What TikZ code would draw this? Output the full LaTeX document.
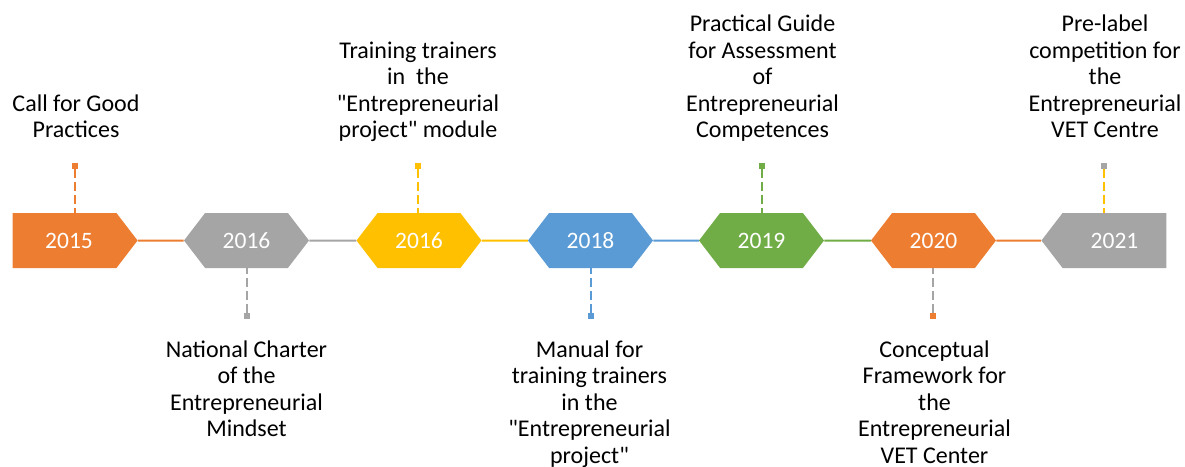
\documentclass[tikz,border=0pt]{standalone}
\usepackage{fontspec}
\setmainfont{Carlito}
\usetikzlibrary{shapes.symbols}

\definecolor{Orange}{HTML}{ED7D31}
\definecolor{Gray}{HTML}{A5A5A5}
\definecolor{Gold}{HTML}{FFC000}
\definecolor{Blue}{HTML}{5B9BD5}
\definecolor{Green}{HTML}{70AD47}

\tikzset{
 year/.style={signal, signal to=east and west, signal pointer angle=105,
   minimum width=125, minimum height=55, inner sep=0pt, text=white,
   font=\fontsize{23.5}{26}\selectfont},
 milestone/.style={align=center, inner sep=0pt, font=\fontsize{24}{26.5}\selectfont},
 tip/.style={rectangle, minimum size=5.5, inner sep=0pt},
 stem/.style={line width=2, dash pattern=on 9 off 4},
 link/.style={line width=2}
}

\begin{document}
\begin{tikzpicture}[x=1pt, y=-1pt]

 \useasboundingbox (0,0) rectangle (1185,466) ;

 %%%%%%%%%% Years %%%%%%%%%%
 \node [year, fill=Orange, signal to=east] (y2015) at (64.5,240.5) {\hspace{9pt}2015} ;
 \node [year, fill=Gray] (y2016a) at (246.5,240.5) {2016} ;
 \node [year, fill=Gold] (y2016b) at (419,240.5) {2016} ;
 \node [year, fill=Blue] (y2018) at (590.5,240.5) {2018} ;
 \node [year, fill=Green] (y2019) at (761.5,240.5) {2019} ;
 \node [year, fill=Orange] (y2020) at (933.5,240.5) {2020} ;
 \node [year, fill=Gray, signal to=west] (y2021) at (1114.5,240.5) {2021\hspace{9pt}} ;

 %%%%%%%%%% Timeline %%%%%%%%%%
 \draw [link, color=Orange] (y2015) -- (y2016a) ;
 \draw [link, color=Gray] (y2016a) -- (y2016b) ;
 \draw [link, color=Gold] (y2016b) -- (y2018) ;
 \draw [link, color=Blue] (y2018) -- (y2019) ;
 \draw [link, color=Green] (y2019) -- (y2020) ;
 \draw [link, color=Orange] (y2020) -- (y2021) ;

 %%%%%%%%%% Markers %%%%%%%%%%
 \node [tip, fill=Orange] (d2015) at (75,166) {} ;
 \node [tip, fill=Gray] (d2016a) at (247,316) {} ;
 \node [tip, fill=Gold] (d2016b) at (418,166) {} ;
 \node [tip, fill=Blue] (d2018) at (591,316) {} ;
 \node [tip, fill=Green] (d2019) at (762,166) {} ;
 \node [tip, fill=Orange] (d2020) at (933,316) {} ;
 \node [tip, fill=Gray] (d2021) at (1104,166) {} ;

 \draw [stem, color=Orange] (d2015) -- (d2015 |- y2015.north) ;
 \draw [stem, color=Gray] (d2016a) -- (d2016a |- y2016a.south) ;
 \draw [stem, color=Gold] (d2016b) -- (d2016b |- y2016b.north) ;
 \draw [stem, color=Blue] (d2018) -- (d2018 |- y2018.south) ;
 \draw [stem, color=Green] (d2019) -- (d2019 |- y2019.north) ;
 \draw [stem, color=Gray] (d2020) -- (d2020 |- y2020.south) ;
 \draw [stem, color=Gold] (d2021) -- (d2021 |- y2021.north) ;

 %%%%%%%%%% Texts %%%%%%%%%%
 \node [milestone, anchor=south] (t2015) at (76,146)
   {\strut Call for Good\\Practices\strut} ;
 \node [milestone, anchor=north] (t2016a) at (246.5,338.5)
   {\strut National Charter\\of the\\Entrepreneurial\\Mindset\strut} ;
 \node [milestone, anchor=south] (t2016b) at (418,146)
   {\strut Training trainers\\in~ the\\\textquotedbl Entrepreneurial\\project\textquotedbl{} module\strut} ;
 \node [milestone, anchor=north] (t2018) at (589.5,338.5)
   {\strut Manual for\\training trainers\\in the\\\textquotedbl Entrepreneurial\\project\textquotedbl\strut} ;
 \node [milestone, anchor=south] (t2019) at (762.5,146)
   {\strut Practical Guide\\for Assessment\\of\\Entrepreneurial\\Competences\strut} ;
 \node [milestone, anchor=north] (t2020) at (934.5,338.5)
   {\strut Conceptual\\Framework for\\the\\Entrepreneurial\\VET Center\strut} ;
 \node [milestone, anchor=south] (t2021) at (1105,146)
   {\strut Pre-label\\competition for\\the\\Entrepreneurial\\VET Centre\strut} ;

\end{tikzpicture}
\end{document}
